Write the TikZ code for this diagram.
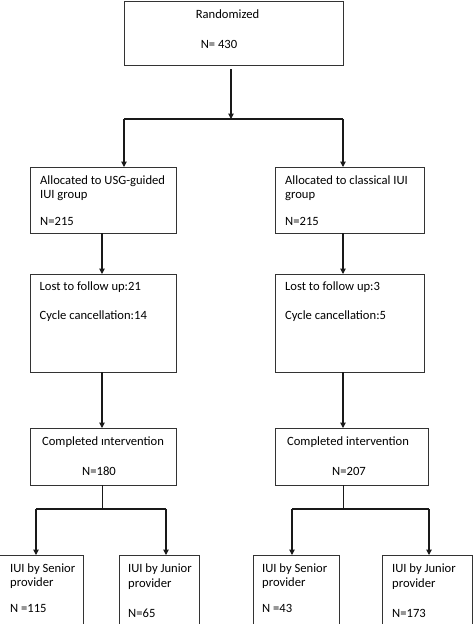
\documentclass[tikz,border=0pt]{standalone}
\usepackage{fontspec}
\setmainfont{Carlito}
\usetikzlibrary{arrows.meta}
\begin{document}
\begin{tikzpicture}[x=1pt,y=-1pt,
  box/.style={draw=black!80,line width=0.9pt,inner sep=0pt,outer sep=0pt,anchor=north west},
  txt/.style={inner sep=0pt,anchor=base west,font=\fontsize{12.6}{15}\selectfont},
  ctxt/.style={inner sep=0pt,anchor=base,font=\fontsize{12.6}{15}\selectfont},
  link/.style={line width=1.1pt,black!90},
  arr/.style={link,-{Triangle[width=5.5pt,length=5.5pt]}}]
\useasboundingbox (0,0) rectangle (474,624);
% boxes
\node[box,minimum width=219pt,minimum height=64pt] (top) at (124,1) {};
\node[box,minimum width=146pt,minimum height=66pt] (L1) at (30,167) {};
\node[box,minimum width=149pt,minimum height=66pt] (R1) at (275,167) {};
\node[box,minimum width=146pt,minimum height=98pt] (L2) at (30,274) {};
\node[box,minimum width=149pt,minimum height=98pt] (R2) at (275,274) {};
\node[box,minimum width=146pt,minimum height=57pt] (L3) at (30,428) {};
\node[box,minimum width=153pt,minimum height=57pt] (R3) at (275,428) {};
\node[box,minimum width=84pt,minimum height=80pt] (LS) at (-1,555) {};
\node[box,minimum width=80pt,minimum height=80pt] (LJ) at (119,555) {};
\node[box,minimum width=86pt,minimum height=80pt] (RS) at (253,555) {};
\node[box,minimum width=90pt,minimum height=80pt] (RJ) at (382,555) {};
% texts
\node[ctxt] (t0a) at (227.5,18.5) {Randomized};
\node[ctxt] (t0b) at (219,48) {N= 430};
\node[txt] (tL1a) at (40,184) {Allocated to USG-guided};
\node[txt] (tL1b) at (40,198.5) {IUI group};
\node[txt] (tL1c) at (40,225) {N=215};
\node[txt] (tR1a) at (285,184) {Allocated to classical IUI};
\node[txt] (tR1b) at (285,198.5) {group};
\node[txt] (tR1c) at (285,225) {N=215};
\node[txt] (tL2a) at (39.5,290.5) {Lost to follow up:21};
\node[txt] (tL2b) at (39.5,319) {Cycle cancellation:14};
\node[txt] (tR2a) at (285,290.5) {Lost to follow up:3};
\node[txt] (tR2b) at (285,319) {Cycle cancellation:5};
\node[ctxt] (tL3a) at (103,445.5) {Completed ıntervention};
\node[ctxt] (tL3b) at (99,475.5) {N=180};
\node[ctxt] (tR3a) at (348,445.5) {Completed intervention};
\node[ctxt] (tR3b) at (349,475.5) {N=207};
\node[txt] (tLSa) at (10,572) {IUI by Senior};
\node[txt] (tLSb) at (10,586) {provider};
\node[txt] (tLSc) at (10,612.7) {N =115};
\node[txt] (tLJa) at (128,572) {IUI by Junior};
\node[txt] (tLJb) at (128,587.5) {provider};
\node[txt] (tLJc) at (128,617) {N=65};
\node[txt] (tRSa) at (262,572) {IUI by Senior};
\node[txt] (tRSb) at (262,586) {provider};
\node[txt] (tRSc) at (262,612.7) {N =43};
\node[txt] (tRJa) at (392,572) {IUI by Junior};
\node[txt] (tRJb) at (392,587.5) {provider};
\node[txt] (tRJc) at (392,617) {N=173};
% connectors
\coordinate (b0) at (231,119);
\coordinate (bl) at (124,119);
\coordinate (br) at (343,119);
\draw[arr,shorten <=4pt] (top.south -| b0) -- (b0);
\draw[link] (bl) -- (br);
\draw[arr] (bl) -- (L1.north -| bl);
\draw[arr] (br) -- (R1.north -| br);
\draw[arr] ([xshift=-1pt]L1.south) -- ([xshift=-1pt]L2.north);
\draw[arr] ([xshift=-6.5pt]R1.south) -- ([xshift=-6.5pt]R2.north);
\draw[arr] ([xshift=-1pt]L2.south) -- ([xshift=-1pt]L3.north);
\draw[arr] ([xshift=-6.5pt]R2.south) -- ([xshift=-8.5pt]R3.north);
\coordinate (lm) at (102,509);
\coordinate (ll) at (36,509);
\coordinate (lr) at (166,509);
\coordinate (rm) at (343,509);
\coordinate (rl) at (292,509);
\coordinate (rr) at (429,509);
\draw[link,line width=0.8pt] (L3.south -| lm) -- (lm);
\draw[link] (ll) -- (lr);
\draw[arr] (ll) -- (LS.north -| ll);
\draw[arr] (lr) -- (LJ.north -| lr);
\draw[link,line width=0.8pt] (R3.south -| rm) -- (rm);
\draw[link] (rl) -- (rr);
\draw[arr] (rl) -- (RS.north -| rl);
\draw[arr] (rr) -- (RJ.north -| rr);
\end{tikzpicture}
\end{document}
